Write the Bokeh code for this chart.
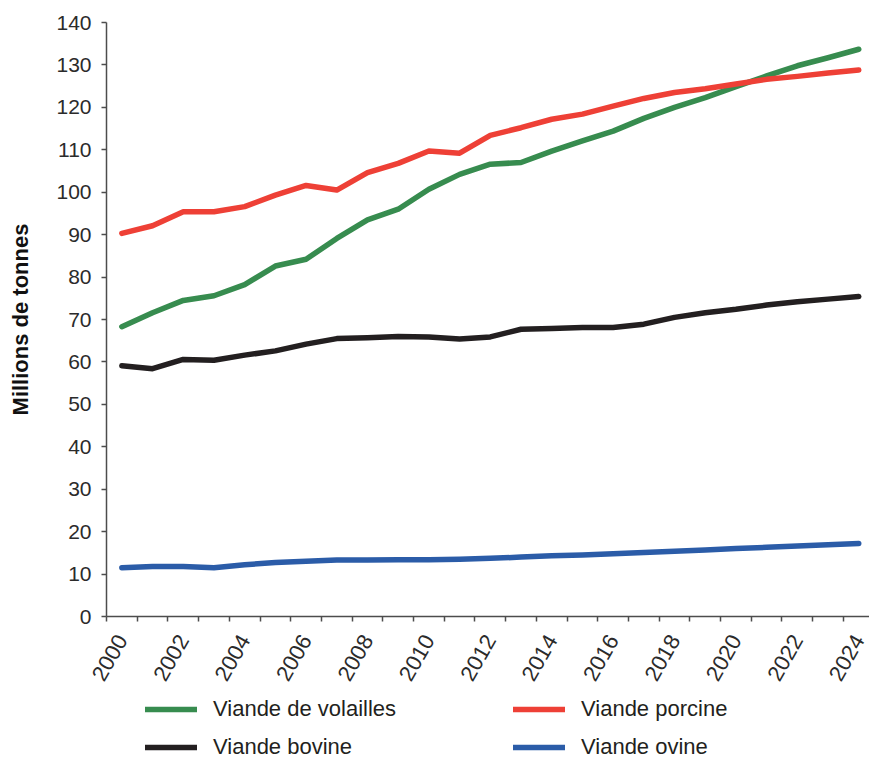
import math
from bokeh.plotting import figure
from bokeh.layouts import column
from bokeh.models import FixedTicker, Legend, LegendItem, Range1d
from bokeh.embed import file_html
from bokeh.resources import INLINE

years = list(range(2000, 2025))
volailles = [68.3, 71.6, 74.5, 75.6, 78.2, 82.6, 84.2, 89.1, 93.5, 96.0, 100.7, 104.2, 106.6,
             107.0, 109.7, 112.1, 114.4, 117.4, 120.0, 122.3, 124.9, 127.4, 129.8, 131.7, 133.7]
porcine = [90.3, 92.1, 95.4, 95.4, 96.6, 99.3, 101.6, 100.5, 104.6, 106.8, 109.7, 109.2, 113.4,
           115.2, 117.2, 118.4, 120.3, 122.1, 123.5, 124.4, 125.5, 126.6, 127.3, 128.1, 128.8]
bovine = [59.1, 58.4, 60.6, 60.4, 61.6, 62.6, 64.2, 65.5, 65.7, 66.0, 65.9, 65.4, 65.9,
          67.7, 67.9, 68.1, 68.1, 68.9, 70.5, 71.6, 72.4, 73.4, 74.2, 74.8, 75.4]
ovine = [11.5, 11.8, 11.8, 11.5, 12.2, 12.7, 13.0, 13.3, 13.3, 13.4, 13.4, 13.5, 13.7,
         14.0, 14.3, 14.5, 14.8, 15.1, 15.4, 15.7, 16.0, 16.3, 16.6, 16.9, 17.2]
year_labels = list(range(2000, 2025, 2))
y_ticks = list(range(0, 141, 10))
series_names = ["Viande de volailles", "Viande porcine", "Viande bovine", "Viande ovine"]
colors = ["#378c4f", "#ee4036", "#231f20", "#2b5ca8"]
series = [volailles, porcine, bovine, ovine]

FONT = "Liberation Sans"
TXT = "#2b2b2b"
AX = "#4d4d4d"

p = figure(width=869, height=694, output_backend="svg", toolbar_location=None,
           x_range=Range1d(1999.5, 2024.35), y_range=Range1d(0, 140),
           min_border_left=106, min_border_right=0, min_border_top=22, min_border_bottom=78)
p.outline_line_color = None
p.grid.visible = False

for vals, col in zip(series, colors):
    p.line(years, vals, line_color=col, line_width=5.5, line_cap="round", line_join="round")

# y axis
ya = p.yaxis[0]
ya.ticker = FixedTicker(ticks=y_ticks)
ya.axis_label = "Millions de tonnes"
ya.axis_label_text_font = FONT
ya.axis_label_text_font_style = "bold"
ya.axis_label_text_font_size = "22px"
ya.axis_label_text_color = "#111111"
ya.axis_label_standoff = 20
ya.major_label_text_font = FONT
ya.major_label_text_font_size = "21px"
ya.major_label_text_color = TXT
ya.major_label_standoff = 10
ya.major_tick_in = 0
ya.major_tick_out = 5
ya.minor_tick_line_color = None
ya.axis_line_color = AX
ya.axis_line_width = 1.5
ya.major_tick_line_color = AX
ya.major_tick_line_width = 1.5

# x axis
xa = p.xaxis[0]
xa.ticker = FixedTicker(ticks=year_labels, minor_ticks=[y - 0.5 for y in years] + [years[-1] + 0.5])
xa.major_label_text_font = FONT
xa.major_label_text_font_size = "22px"
xa.major_label_text_color = TXT
xa.major_label_orientation = 1.05
xa.major_label_standoff = 14
xa.major_tick_line_color = None
xa.minor_tick_in = 0
xa.minor_tick_out = 5
xa.minor_tick_line_color = AX
xa.minor_tick_line_width = 1.5
xa.axis_line_color = AX
xa.axis_line_width = 1.5

# legend strip below the chart (its series lie outside its view; only the swatches show)
p2 = figure(width=869, height=66, output_backend="svg", toolbar_location=None,
            x_range=Range1d(0, 1), y_range=Range1d(0, 1),
            x_axis_location=None, y_axis_location=None, min_border=0)
p2.outline_line_color = None
p2.grid.visible = False
swatches = [p2.line(years, vals, line_color=col, line_width=5.5, line_cap="round")
            for vals, col in zip(series, colors)]
items = [LegendItem(label=n, renderers=[r]) for n, r in zip(series_names, swatches)]
legend = Legend(items=items, ncols=2, orientation="horizontal", location=(39, 0),
                label_text_font=FONT, label_text_font_size="22px", label_text_color="#231f20",
                glyph_width=52, glyph_height=20, label_standoff=16, label_width=288,
                label_height=20, spacing=12, padding=0, margin=0,
                border_line_color=None, background_fill_alpha=0)
p2.add_layout(legend, "center")

layout = column(p, p2, spacing=0)
open("out.html", "w").write(file_html(layout, INLINE))
